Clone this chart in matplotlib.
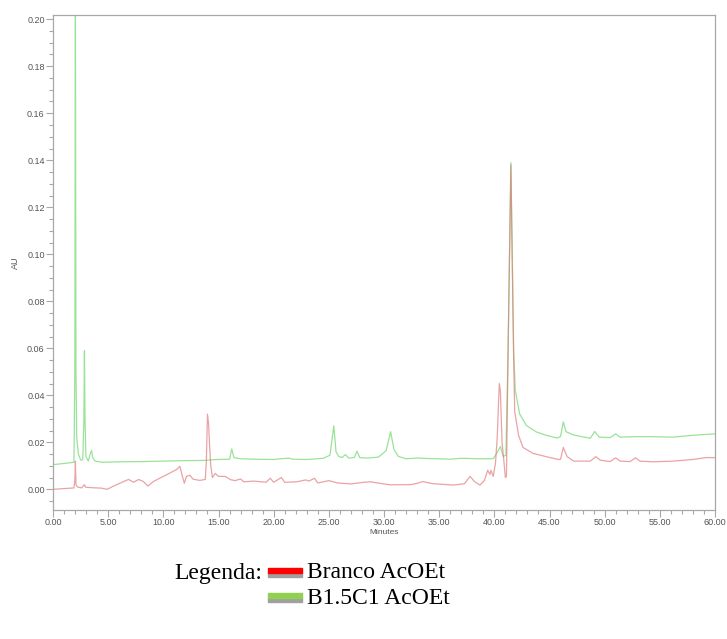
import matplotlib
matplotlib.use("Agg")
import matplotlib.pyplot as plt
from matplotlib.patches import Rectangle
from matplotlib.ticker import MultipleLocator, FormatStrFormatter

# B1.5C1 AcOEt trace (green), minutes vs AU
green_t = [0.0, 1.0, 1.9, 1.98, 2.03, 2.08, 2.15, 2.3, 2.5, 2.7, 2.8, 2.85, 2.9, 2.98,
           3.2, 3.4, 3.5, 3.6, 3.8, 4.5, 6.0, 8.0, 10.0, 11.0, 12.0, 13.8, 14.2, 15.0,
           16.0, 16.2, 16.4, 17.0, 18.5, 20.0, 21.4, 21.7, 23.0, 24.5, 25.1, 25.45,
           25.65, 25.9, 26.2, 26.5, 26.8, 27.3, 27.55, 27.8, 28.5, 29.5, 30.2, 30.6,
           30.9, 31.3, 32.0, 33.0, 34.0, 35.0, 36.0, 37.0, 38.5, 39.9, 40.3, 40.55,
           40.8, 41.05, 41.25, 41.5, 41.75, 41.9, 42.3, 42.9, 43.8, 44.7, 45.7, 46.0,
           46.25, 46.5, 47.2, 48.7, 49.1, 49.5, 50.5, 51.0, 51.4, 52.9, 54.1, 56.2,
           58.0, 60.0]
green_v = [0.0105, 0.0110, 0.0115, 0.05, 0.215, 0.05, 0.022, 0.015, 0.0125, 0.0125,
           0.03, 0.059, 0.03, 0.014, 0.012, 0.0155, 0.0165, 0.0135, 0.012, 0.0115,
           0.0117, 0.0118, 0.0120, 0.0121, 0.0122, 0.0123, 0.0125, 0.0127, 0.0128,
           0.0172, 0.0135, 0.0130, 0.0128, 0.0127, 0.0133, 0.0128, 0.0127, 0.0132,
           0.0145, 0.0270, 0.0160, 0.0140, 0.0135, 0.0148, 0.0133, 0.0135, 0.0162,
           0.0135, 0.0133, 0.0137, 0.0165, 0.0245, 0.0170, 0.0140, 0.0130, 0.0133,
           0.0131, 0.0130, 0.0128, 0.0132, 0.0130, 0.0130, 0.0160, 0.0182, 0.0140,
           0.0145, 0.06, 0.139, 0.06, 0.042, 0.032, 0.0272, 0.0244, 0.0230, 0.0218,
           0.0225, 0.0287, 0.0245, 0.0231, 0.0217, 0.0246, 0.0222, 0.0220, 0.0236,
           0.0222, 0.0224, 0.0224, 0.0222, 0.0230, 0.0236]

# Branco AcOEt trace (red)
red_t = [0.0, 1.0, 1.9, 1.98, 2.03, 2.08, 2.2, 2.6, 2.85, 2.95, 3.5, 4.4, 4.9, 5.5,
         6.4, 6.85, 7.3, 7.76, 8.2, 8.6, 9.1, 9.7, 10.3, 10.9, 11.2, 11.5, 11.7, 11.9,
         12.1, 12.4, 12.7, 13.3, 13.8, 13.9, 14.0, 14.1, 14.2, 14.3, 14.45, 14.7,
         15.0, 15.6, 16.1, 16.5, 17.0, 17.3, 18.2, 19.3, 19.7, 20.0, 20.7, 21.0,
         22.1, 22.9, 23.2, 23.7, 24.0, 25.0, 25.8, 27.0, 28.2, 28.8, 29.4, 30.6,
         32.4, 33.0, 33.5, 34.4, 36.3, 37.3, 37.8, 38.2, 38.7, 39.1, 39.4, 39.6,
         39.7, 39.9, 40.1, 40.25, 40.45, 40.55, 40.7, 40.85, 41.0, 41.1, 41.25, 41.5,
         41.75, 41.85, 42.2, 42.6, 43.5, 44.7, 45.8, 46.0, 46.25, 46.6, 47.2, 48.7,
         49.2, 49.6, 50.5, 51.0, 51.4, 52.3, 52.8, 53.2, 54.4, 56.2, 58.0, 59.2, 60.0]
red_v = [0.0000, 0.0003, 0.0006, 0.004, 0.012, 0.002, 0.001, 0.0006, 0.0020, 0.0009,
         0.0007, 0.0005, 0.0000, 0.0014, 0.0033, 0.0042, 0.0030, 0.0042, 0.0033,
         0.0014, 0.0033, 0.0048, 0.0062, 0.0077, 0.0084, 0.0098, 0.0060, 0.0026,
         0.0055, 0.0060, 0.0043, 0.0038, 0.0042, 0.012, 0.032, 0.028, 0.018, 0.010,
         0.0050, 0.0068, 0.0055, 0.0055, 0.0041, 0.0037, 0.0044, 0.0032, 0.0035,
         0.0030, 0.0047, 0.0030, 0.0050, 0.0030, 0.0032, 0.0040, 0.0035, 0.0047,
         0.0027, 0.0037, 0.0027, 0.0023, 0.0030, 0.0032, 0.0027, 0.0019, 0.0020,
         0.0025, 0.0033, 0.0024, 0.0018, 0.0024, 0.0055, 0.0033, 0.0018, 0.0038,
         0.0081, 0.0063, 0.0081, 0.0055, 0.0110, 0.0210, 0.0450, 0.0417, 0.0200,
         0.0127, 0.0050, 0.0055, 0.06, 0.138, 0.055, 0.033, 0.0229, 0.0178, 0.0153,
         0.0139, 0.0127, 0.0128, 0.0178, 0.0139, 0.0120, 0.0120, 0.0139, 0.0124,
         0.0118, 0.0134, 0.0120, 0.0118, 0.0134, 0.0120, 0.0117, 0.0120, 0.0127,
         0.0135, 0.0135]

legend_labels = ["Branco AcOEt", "B1.5C1 AcOEt"]
legend_colors = ["#ff0000", "#92d050"]

W, H = 727, 639
fig = plt.figure(figsize=(W / 100, H / 100), dpi=100)
ax = fig.add_axes([53 / W, 1 - 510 / H, (715 - 53) / W, (510 - 15) / H])

ax.plot(green_t, green_v, color="#8ee08e", lw=0.9, alpha=0.9)
ax.plot(red_t, red_v, color="#e27c7c", lw=0.9, alpha=0.7)

ax.set_xlim(0, 60)
ax.set_ylim(-0.0088, 0.2018)
ax.xaxis.set_major_locator(MultipleLocator(5))
ax.xaxis.set_minor_locator(MultipleLocator(1))
ax.yaxis.set_major_locator(MultipleLocator(0.02))
ax.yaxis.set_minor_locator(MultipleLocator(0.005))
ax.xaxis.set_major_formatter(FormatStrFormatter("%.2f"))
ax.yaxis.set_major_formatter(FormatStrFormatter("%.2f"))

spine_c = "#a8a8a8"
for s in ax.spines.values():
    s.set_color(spine_c)
    s.set_linewidth(0.9)
ax.tick_params(which="both", direction="out", color=spine_c, width=0.8)
ax.tick_params(which="major", length=5, labelsize=6.5, labelcolor="#555555", pad=1)
ax.tick_params(which="minor", length=3)
for lab in ax.get_xticklabels() + ax.get_yticklabels():
    lab.set_family("Liberation Sans")

ax.set_xlabel("Minutes", fontsize=6, color="#555555", family="Liberation Sans", labelpad=1)
ax.set_ylabel("AU", fontsize=6.5, color="#555555", family="Liberation Sans", labelpad=5)

# legend drawn below the chart, in figure pixels
def fx(x):
    return x / W

def fy(y):
    return 1 - y / H

serif = "Liberation Serif"
fig.text(fx(262), fy(573), "Legenda:", ha="right", va="center", fontsize=17, family=serif)
rows_y = [573, 598]
for lbl, col, yc in zip(legend_labels, legend_colors, rows_y):
    fig.patches.append(Rectangle((fx(268), fy(yc + 4)), fx(34), 4.5 / H, color="#a0a0a0",
                                 transform=fig.transFigure, figure=fig))
    fig.patches.append(Rectangle((fx(268), fy(yc)), fx(34), 5 / H, color=col,
                                 transform=fig.transFigure, figure=fig))
    fig.text(fx(307), fy(yc), lbl, ha="left", va="center", fontsize=17, family=serif)

fig.savefig("out.png", dpi=100)
